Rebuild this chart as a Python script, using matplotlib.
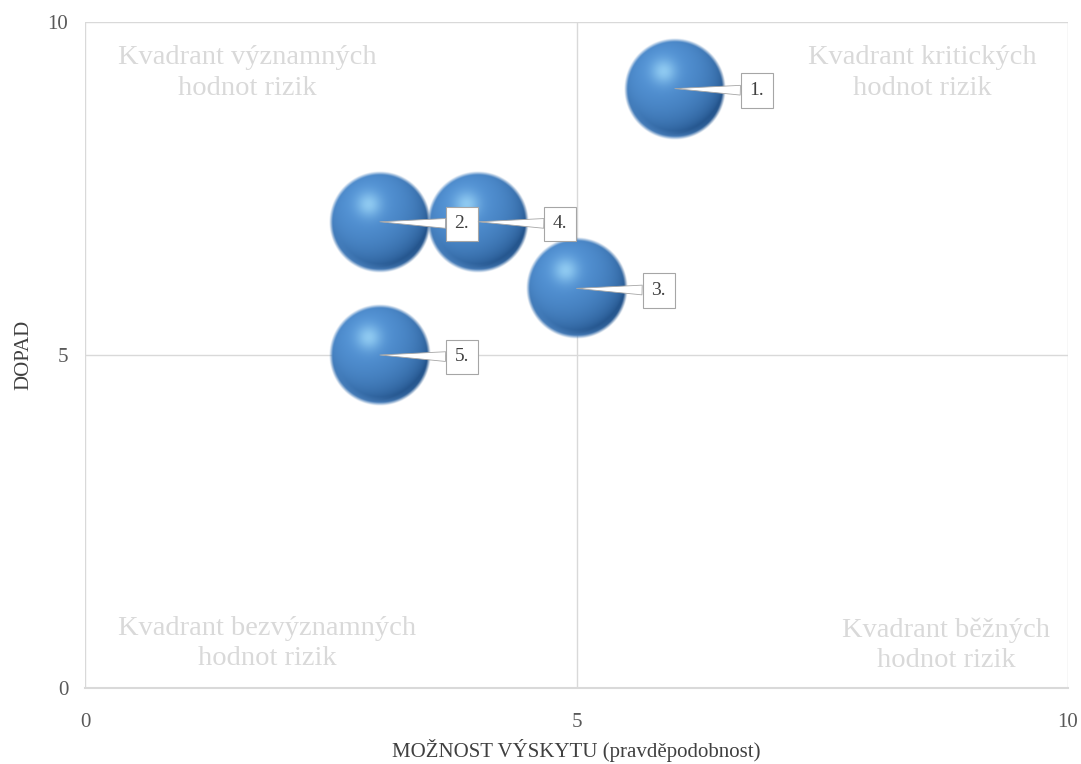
import numpy as np
import matplotlib
matplotlib.use('Agg')
import matplotlib.pyplot as plt

# ── Data ─────────────────────────────────────────────────────────────────────
labels = ['1.', '2.', '3.', '4.', '5.']
vyskyt = [6, 3, 5, 4, 3]        # MOŽNOST VÝSKYTU
dopad = [9, 7, 6, 7, 5]         # DOPAD
quadrant_texts = ['Kvadrant významných\nhodnot rizik',
                  'Kvadrant kritických\nhodnot rizik',
                  'Kvadrant bezvýznamných\nhodnot rizik',
                  'Kvadrant běžných\nhodnot rizik']
quadrant_pos = [(1.65, 9.23), (8.52, 9.23), (1.85, 0.67), (8.76, 0.64)]
ticks = [0, 5, 10]

plt.rcParams['font.family'] = ['Liberation Serif', 'DejaVu Serif']

W, H, DPI = 1081, 764, 100
fig = plt.figure(figsize=(W / DPI, H / DPI), dpi=DPI)
ax_l, ax_r, ax_t, ax_b = 85, 1068, 22, 688
ax = fig.add_axes([ax_l / W, (H - ax_b) / H, (ax_r - ax_l) / W, (ax_b - ax_t) / H])


def sphere_image(n=220):
    """Shaded RGBA sphere, highlight top-left, light reflection at bottom."""
    v, u = np.mgrid[-1:1:n * 1j, -1:1:n * 1j]
    vu = -v
    r = np.sqrt(u ** 2 + vu ** 2)
    z = np.sqrt(np.clip(1 - r ** 2, 0, 1))
    L = np.array([-0.3, 0.45, 0.84])
    L = L / np.linalg.norm(L)
    d = np.clip(u * L[0] + vu * L[1] + z * L[2], 0, 1)
    dark = np.array([0.14, 0.33, 0.55])
    mid = np.array([0.33, 0.58, 0.84])
    hi = np.array([0.68, 0.90, 1.0])
    col = dark + (mid - dark) * (d ** 0.7)[..., None]
    spec = np.exp(-(((u + 0.22) ** 2 + (vu - 0.35) ** 2) / 0.06))
    col = col + (hi - col) * (spec * 0.65)[..., None]
    rim = np.clip(-vu - 0.2, 0, 1) * np.clip((r - 0.82) / 0.12, 0, 1) * np.clip(1 - u, 0, 1)
    col = col + (np.array([0.42, 0.65, 0.90]) - col) * (np.clip(rim, 0, 1) * 0.7)[..., None]
    alpha = np.clip((1 - r) * 14, 0, 1)
    return np.dstack([np.clip(col, 0, 1), alpha])


img = sphere_image()
rad_px = 51
rx = rad_px / (ax_r - ax_l) * 10
ry = rad_px / (ax_b - ax_t) * 10

for x, y in zip(vyskyt, dopad):
    ax.imshow(img, extent=[x - rx, x + rx, y - ry, y + ry], aspect='auto',
              zorder=3, interpolation='bilinear')

for lab, x, y in zip(labels, vyskyt, dopad):
    ax.annotate(lab, xy=(x, y), xytext=(82, -2), textcoords='offset pixels',
                ha='center', va='center', fontsize=14, color='#404040', zorder=5,
                bbox=dict(boxstyle='square,pad=0.45', fc='white', ec='#a6a6a6', lw=0.8),
                arrowprops=dict(arrowstyle='wedge,tail_width=0.5,shrink_factor=0.5',
                                fc='white', ec='#a6a6a6', lw=0.6,
                                shrinkA=0, shrinkB=0))

for txt, (qx, qy) in zip(quadrant_texts, quadrant_pos):
    ax.text(qx, qy, txt, ha='center', va='center', fontsize=20.5,
            color='#d9d9d9', linespacing=1.3, zorder=2)

ax.set_xlim(0, 10)
ax.set_ylim(0, 10)
ax.set_xticks(ticks)
ax.set_yticks(ticks)
ax.grid(True, color='#d9d9d9', lw=1)
ax.set_axisbelow(True)
for s in ['top', 'right', 'left']:
    ax.spines[s].set_visible(False)
ax.spines['bottom'].set_color('#d9d9d9')
ax.spines['bottom'].set_linewidth(1.5)
ax.tick_params(length=0, labelsize=15, labelcolor='#595959')
ax.tick_params(axis='x', pad=18)
ax.tick_params(axis='y', pad=12)
ax.set_xlabel('MOŽNOST VÝSKYTU (pravděpodobnost)', fontsize=15, color='#404040', labelpad=5)
ax.set_ylabel('DOPAD', fontsize=15, color='#404040', labelpad=10)

fig.savefig('out.png', dpi=DPI)
